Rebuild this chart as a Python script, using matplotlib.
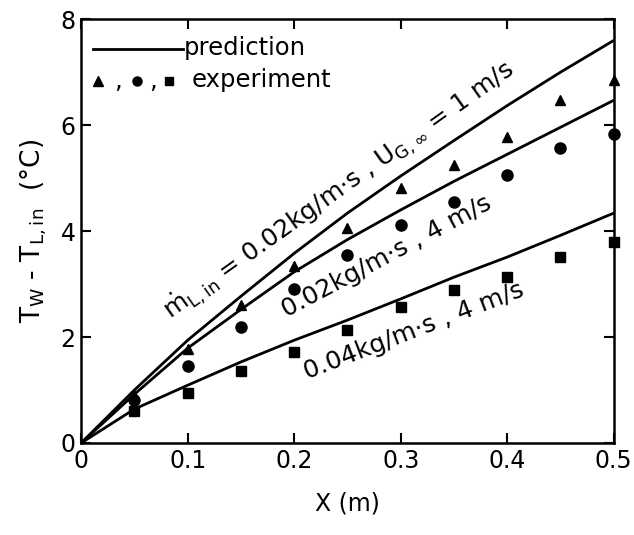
import matplotlib
matplotlib.use("Agg")
import matplotlib.pyplot as plt
from matplotlib.lines import Line2D

plt.rcParams['font.family'] = ['DejaVu Sans']
plt.rcParams['mathtext.fontset'] = 'dejavusans'

# ---- data ----
x_line = [0.0, 0.05, 0.1, 0.15, 0.2, 0.25, 0.3, 0.35, 0.4, 0.45, 0.5]
pred_a = [0.0, 1.00, 1.94, 2.77, 3.58, 4.34, 5.04, 5.71, 6.37, 7.00, 7.60]
pred_b = [0.0, 0.92, 1.79, 2.52, 3.23, 3.84, 4.40, 4.94, 5.45, 5.96, 6.47]
pred_c = [0.0, 0.64, 1.09, 1.53, 1.94, 2.32, 2.72, 3.13, 3.51, 3.92, 4.34]

x_exp = [0.05, 0.1, 0.15, 0.2, 0.25, 0.3, 0.35, 0.4, 0.45, 0.5]
exp_tri = [0.91, 1.77, 2.60, 3.34, 4.06, 4.82, 5.24, 5.77, 6.47, 6.85]
exp_circ = [0.81, 1.45, 2.19, 2.91, 3.55, 4.11, 4.55, 5.06, 5.57, 5.83]
exp_sq = [0.60, 0.94, 1.36, 1.72, 2.13, 2.57, 2.89, 3.13, 3.51, 3.79]

x_ticks = [0, 0.1, 0.2, 0.3, 0.4, 0.5]
x_ticklabels = ['0', '0.1', '0.2', '0.3', '0.4', '0.5']
y_ticks = [0, 2, 4, 6, 8]

label_a = r'$\dot{\mathrm{m}}_{\mathrm{L,in}}$ = 0.02kg/m·s , U$_{\mathrm{G,\infty}}$ = 1 m/s'
label_b = '0.02kg/m·s , 4 m/s'
label_c = '0.04kg/m·s , 4 m/s'

# ---- figure ----
fig = plt.figure(figsize=(6.34, 5.35), dpi=100)
ax = fig.add_axes([0.128, 0.172, 0.84, 0.792])

lw = 2.0
for yv in (pred_a, pred_b, pred_c):
    ax.plot(x_line, yv, color='black', lw=lw, solid_capstyle='butt',
            solid_joinstyle='round')

ax.plot(x_exp, exp_tri, linestyle='none', marker='^', ms=7.5, color='black', clip_on=False)
ax.plot(x_exp, exp_circ, linestyle='none', marker='o', ms=8, color='black', clip_on=False)
ax.plot(x_exp, exp_sq, linestyle='none', marker='s', ms=6.5, color='black', clip_on=False)

ax.set_xlim(0, 0.5)
ax.set_ylim(0, 8)
ax.set_xticks(x_ticks)
ax.set_xticklabels(x_ticklabels)
ax.set_yticks(y_ticks)
ax.tick_params(direction='in', length=7, width=1.5, labelsize=17,
               top=True, right=True, pad=4)
for s in ax.spines.values():
    s.set_linewidth(1.8)

ax.set_xlabel('X (m)', fontsize=17, labelpad=14)
ax.set_ylabel(r'T$_\mathrm{W}$ - T$_\mathrm{L,in}$  (°C)', fontsize=19, labelpad=8)

# annotations along the curves (anchored at left baseline)
ax.text(0.085, 2.32, label_a, rotation=35.5, fontsize=18, ha='left', va='baseline',
        rotation_mode='anchor')
ax.text(0.193, 2.36, label_b, rotation=28, fontsize=18, ha='left', va='baseline',
        rotation_mode='anchor')
ax.text(0.212, 1.20, label_c, rotation=21, fontsize=18, ha='left', va='baseline',
        rotation_mode='anchor')

# legend drawn by hand in axes
ax.add_line(Line2D([0.011, 0.096], [7.43, 7.43], color='black', lw=lw))
ax.text(0.096, 7.45, 'prediction', fontsize=17.5, ha='left', va='center')
ax.plot([0.016], [6.83], marker='^', ms=6.5, color='black', linestyle='none')
ax.text(0.035, 6.83, ',', fontsize=17.5, ha='center', va='center')
ax.plot([0.0525], [6.83], marker='o', ms=6.5, color='black', linestyle='none')
ax.text(0.067, 6.83, ',', fontsize=17.5, ha='center', va='center')
ax.plot([0.0826], [6.83], marker='s', ms=5.5, color='black', linestyle='none')
ax.text(0.104, 6.86, 'experiment', fontsize=17.5, ha='left', va='center')

fig.savefig('out.png', dpi=100)
